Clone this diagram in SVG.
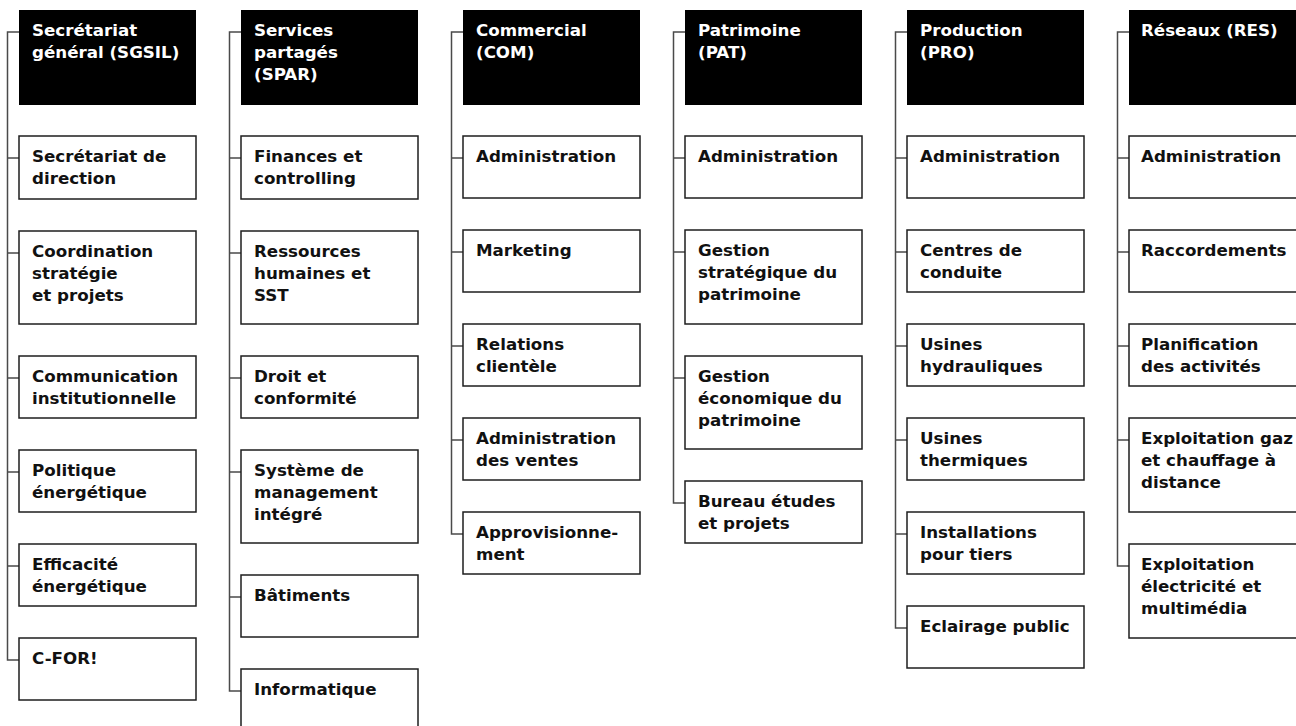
<svg xmlns="http://www.w3.org/2000/svg" width="1296" height="726" viewBox="0 0 1296 726">
<style>
.bg{fill:#ffffff}
.hd{fill:#000000}
.bx{fill:#ffffff;stroke:#1e1e1e;stroke-width:1.5}
.cn{fill:none;stroke:#4a4a4a;stroke-width:1.5}
text{font-family:"DejaVu Sans","Liberation Sans",sans-serif;font-weight:bold;font-size:16.7px}
.ht{fill:#ffffff}
.bt{fill:#111111}
</style>
<rect class="bg" x="0" y="0" width="1296" height="726"/>
<g id="connectors">
<path class="cn" d="M19,32 H7.5 V660 H19 M7.5,158 H19 M7.5,253 H19 M7.5,378 H19 M7.5,472 H19 M7.5,566 H19"/>
<path class="cn" d="M241,32 H229.5 V691 H241 M229.5,158 H241 M229.5,253 H241 M229.5,378 H241 M229.5,472 H241 M229.5,597 H241"/>
<path class="cn" d="M463,32 H451.5 V534 H463 M451.5,158 H463 M451.5,252 H463 M451.5,346 H463 M451.5,440 H463"/>
<path class="cn" d="M685,32 H673.5 V503 H685 M673.5,158 H685 M673.5,252 H685 M673.5,378 H685"/>
<path class="cn" d="M907,32 H895.5 V628 H907 M895.5,158 H907 M895.5,252 H907 M895.5,346 H907 M895.5,440 H907 M895.5,534 H907"/>
<path class="cn" d="M1129,32 H1117.5 V566 H1129 M1117.5,158 H1129 M1117.5,252 H1129 M1117.5,346 H1129 M1117.5,440 H1129"/>
</g>
<!-- Column 1 -->
<g id="sgsil"><rect class="hd" x="19" y="10" width="177" height="95"/><text class="ht" x="32" y="36"><tspan x="32">Secrétariat</tspan><tspan x="32" dy="22">général (SGSIL)</tspan></text></g>
<g id="sgsil-1"><rect class="bx" x="19" y="136" width="177" height="63"/><text class="bt" x="32" y="162"><tspan x="32">Secrétariat de</tspan><tspan x="32" dy="22">direction</tspan></text></g>
<g id="sgsil-2"><rect class="bx" x="19" y="231" width="177" height="93"/><text class="bt" x="32" y="257"><tspan x="32">Coordination</tspan><tspan x="32" dy="22">stratégie</tspan><tspan x="32" dy="22">et projets</tspan></text></g>
<g id="sgsil-3"><rect class="bx" x="19" y="356" width="177" height="62"/><text class="bt" x="32" y="382"><tspan x="32">Communication</tspan><tspan x="32" dy="22">institutionnelle</tspan></text></g>
<g id="sgsil-4"><rect class="bx" x="19" y="450" width="177" height="62"/><text class="bt" x="32" y="476"><tspan x="32">Politique</tspan><tspan x="32" dy="22">énergétique</tspan></text></g>
<g id="sgsil-5"><rect class="bx" x="19" y="544" width="177" height="62"/><text class="bt" x="32" y="570"><tspan x="32">Efficacité</tspan><tspan x="32" dy="22">énergétique</tspan></text></g>
<g id="sgsil-6"><rect class="bx" x="19" y="638" width="177" height="62"/><text class="bt" x="32" y="664">C-FOR!</text></g>
<!-- Column 2 -->
<g id="spar"><rect class="hd" x="241" y="10" width="177" height="95"/><text class="ht" x="254" y="36"><tspan x="254">Services</tspan><tspan x="254" dy="22">partagés</tspan><tspan x="254" dy="22">(SPAR)</tspan></text></g>
<g id="spar-1"><rect class="bx" x="241" y="136" width="177" height="63"/><text class="bt" x="254" y="162"><tspan x="254">Finances et</tspan><tspan x="254" dy="22">controlling</tspan></text></g>
<g id="spar-2"><rect class="bx" x="241" y="231" width="177" height="93"/><text class="bt" x="254" y="257"><tspan x="254">Ressources</tspan><tspan x="254" dy="22">humaines et</tspan><tspan x="254" dy="22">SST</tspan></text></g>
<g id="spar-3"><rect class="bx" x="241" y="356" width="177" height="62"/><text class="bt" x="254" y="382"><tspan x="254">Droit et</tspan><tspan x="254" dy="22">conformité</tspan></text></g>
<g id="spar-4"><rect class="bx" x="241" y="450" width="177" height="93"/><text class="bt" x="254" y="476"><tspan x="254">Système de</tspan><tspan x="254" dy="22">management</tspan><tspan x="254" dy="22">intégré</tspan></text></g>
<g id="spar-5"><rect class="bx" x="241" y="575" width="177" height="62"/><text class="bt" x="254" y="601">Bâtiments</text></g>
<g id="spar-6"><rect class="bx" x="241" y="669" width="177" height="63"/><text class="bt" x="254" y="695">Informatique</text></g>
<!-- Column 3 -->
<g id="com"><rect class="hd" x="463" y="10" width="177" height="95"/><text class="ht" x="476" y="36"><tspan x="476">Commercial</tspan><tspan x="476" dy="22">(COM)</tspan></text></g>
<g id="com-1"><rect class="bx" x="463" y="136" width="177" height="62"/><text class="bt" x="476" y="162">Administration</text></g>
<g id="com-2"><rect class="bx" x="463" y="230" width="177" height="62"/><text class="bt" x="476" y="256">Marketing</text></g>
<g id="com-3"><rect class="bx" x="463" y="324" width="177" height="62"/><text class="bt" x="476" y="350"><tspan x="476">Relations</tspan><tspan x="476" dy="22">clientèle</tspan></text></g>
<g id="com-4"><rect class="bx" x="463" y="418" width="177" height="62"/><text class="bt" x="476" y="444"><tspan x="476">Administration</tspan><tspan x="476" dy="22">des ventes</tspan></text></g>
<g id="com-5"><rect class="bx" x="463" y="512" width="177" height="62"/><text class="bt" x="476" y="538"><tspan x="476">Approvisionne-</tspan><tspan x="476" dy="22">ment</tspan></text></g>
<!-- Column 4 -->
<g id="pat"><rect class="hd" x="685" y="10" width="177" height="95"/><text class="ht" x="698" y="36"><tspan x="698">Patrimoine</tspan><tspan x="698" dy="22">(PAT)</tspan></text></g>
<g id="pat-1"><rect class="bx" x="685" y="136" width="177" height="62"/><text class="bt" x="698" y="162">Administration</text></g>
<g id="pat-2"><rect class="bx" x="685" y="230" width="177" height="94"/><text class="bt" x="698" y="256"><tspan x="698">Gestion</tspan><tspan x="698" dy="22">stratégique du</tspan><tspan x="698" dy="22">patrimoine</tspan></text></g>
<g id="pat-3"><rect class="bx" x="685" y="356" width="177" height="93"/><text class="bt" x="698" y="382"><tspan x="698">Gestion</tspan><tspan x="698" dy="22">économique du</tspan><tspan x="698" dy="22">patrimoine</tspan></text></g>
<g id="pat-4"><rect class="bx" x="685" y="481" width="177" height="62"/><text class="bt" x="698" y="507"><tspan x="698">Bureau études</tspan><tspan x="698" dy="22">et projets</tspan></text></g>
<!-- Column 5 -->
<g id="pro"><rect class="hd" x="907" y="10" width="177" height="95"/><text class="ht" x="920" y="36"><tspan x="920">Production</tspan><tspan x="920" dy="22">(PRO)</tspan></text></g>
<g id="pro-1"><rect class="bx" x="907" y="136" width="177" height="62"/><text class="bt" x="920" y="162">Administration</text></g>
<g id="pro-2"><rect class="bx" x="907" y="230" width="177" height="62"/><text class="bt" x="920" y="256"><tspan x="920">Centres de</tspan><tspan x="920" dy="22">conduite</tspan></text></g>
<g id="pro-3"><rect class="bx" x="907" y="324" width="177" height="62"/><text class="bt" x="920" y="350"><tspan x="920">Usines</tspan><tspan x="920" dy="22">hydrauliques</tspan></text></g>
<g id="pro-4"><rect class="bx" x="907" y="418" width="177" height="62"/><text class="bt" x="920" y="444"><tspan x="920">Usines</tspan><tspan x="920" dy="22">thermiques</tspan></text></g>
<g id="pro-5"><rect class="bx" x="907" y="512" width="177" height="62"/><text class="bt" x="920" y="538"><tspan x="920">Installations</tspan><tspan x="920" dy="22">pour tiers</tspan></text></g>
<g id="pro-6"><rect class="bx" x="907" y="606" width="177" height="62"/><text class="bt" x="920" y="632">Eclairage public</text></g>
<!-- Column 6 -->
<g id="res"><rect class="hd" x="1129" y="10" width="177" height="95"/><text class="ht" x="1141" y="36">Réseaux (RES)</text></g>
<g id="res-1"><rect class="bx" x="1129" y="136" width="177" height="62"/><text class="bt" x="1141" y="162">Administration</text></g>
<g id="res-2"><rect class="bx" x="1129" y="230" width="177" height="62"/><text class="bt" x="1141" y="256">Raccordements</text></g>
<g id="res-3"><rect class="bx" x="1129" y="324" width="177" height="62"/><text class="bt" x="1141" y="350"><tspan x="1141">Planification</tspan><tspan x="1141" dy="22">des activités</tspan></text></g>
<g id="res-4"><rect class="bx" x="1129" y="418" width="177" height="94"/><text class="bt" x="1141" y="444"><tspan x="1141">Exploitation gaz</tspan><tspan x="1141" dy="22">et chauffage à</tspan><tspan x="1141" dy="22">distance</tspan></text></g>
<g id="res-5"><rect class="bx" x="1129" y="544" width="177" height="94"/><text class="bt" x="1141" y="570"><tspan x="1141">Exploitation</tspan><tspan x="1141" dy="22">électricité et</tspan><tspan x="1141" dy="22">multimédia</tspan></text></g>
</svg>
